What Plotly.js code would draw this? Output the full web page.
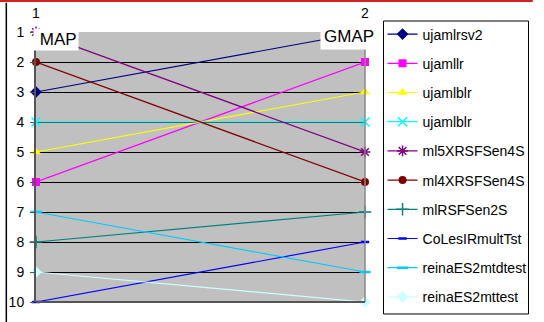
<!DOCTYPE html>
<html>
<head>
<meta charset="utf-8">
<script src="https://cdn.plot.ly/plotly-3.0.1.min.js"></script>
<style>
  html, body { margin: 0; padding: 0; background: #fff; }
  #chart { width: 544px; height: 322px; }
</style>
</head>
<body>
<div id="chart"></div>
<script>
// Rank of each run under the two measures (1 = best)
const positions = [1, 2];
const measureLabels = ['MAP', 'GMAP'];

const ujamlrsv2      = [3, 1];
const ujamllr        = [6, 2];
const ujamlblrA      = [5, 3];
const ujamlblrB      = [4, 4];
const ml5XRSFSen4S   = [1, 5];
const ml4XRSFSen4S   = [2, 6];
const mlRSFSen2S     = [8, 7];
const CoLesIRmultTst = [10, 8];
const reinaES2mtdtest = [7, 9];
const reinaES2mttest  = [9, 10];

const rankTicks = [1, 2, 3, 4, 5, 6, 7, 8, 9, 10];

const FONT = 'Liberation Sans, Arial, sans-serif';

function series(name, y, color, symbol, size, lineW) {
  return {
    type: 'scatter',
    mode: 'lines+markers',
    name: name,
    legendgroup: name + symbol,
    x: positions,
    y: y,
    cliponaxis: false,
    line: { color: color, width: 1.2 },
    marker: {
      color: color,
      symbol: symbol,
      size: size,
      line: { color: color, width: lineW }
    }
  };
}

const traces = [
  series('ujamlrsv2', ujamlrsv2, '#000080', 'diamond', 9, 0),
  series('ujamllr', ujamllr, '#FF00FF', 'square', 8, 0),
  series('ujamlblr', ujamlblrA, '#FFFF00', 'triangle-up', 9, 0),
  series('ujamlblr', ujamlblrB, '#00FFFF', 'x-thin-open', 9, 1.5),
  series('ml5XRSFSen4S', ml5XRSFSen4S, '#800080', 'asterisk-open', 9, 1.5),
  series('ml4XRSFSen4S', ml4XRSFSen4S, '#800000', 'circle', 8, 0),
  series('mlRSFSen2S', mlRSFSen2S, '#008080', 'cross-thin-open', 9, 1.5),
  series('CoLesIRmultTst', CoLesIRmultTst, '#0000FF', 'line-ew-open', 6, 2.5),
  series('reinaES2mtdtest', reinaES2mtdtest, '#00CCFF', 'line-ew-open', 8, 2.5),
  series('reinaES2mttest', reinaES2mttest, '#CCFFFF', 'diamond', 9, 0)
];

const layout = {
  width: 544,
  height: 322,
  autosize: false,
  margin: { l: 36, r: 170, t: 32, b: 20 },
  paper_bgcolor: '#FFFFFF',
  plot_bgcolor: '#C0C0C0',
  font: { family: FONT, size: 14, color: '#000' },
  showlegend: true,
  legend: {
    x: 1.0533, xanchor: 'left',
    y: 1.050, yanchor: 'top',
    bgcolor: 'rgba(0,0,0,0)',
    borderwidth: 0,
    tracegroupgap: 8,
    traceorder: 'grouped',
    maxheight: 400,
    font: { family: FONT, size: 14, color: '#000' }
  },
  xaxis: {
    side: 'top',
    range: [1, 2],
    tickvals: positions,
    ticktext: positions.map(String),
    showgrid: false,
    zeroline: false,
    showline: false,
    ticks: 'outside',
    ticklen: 7,
    tickcolor: 'rgba(0,0,0,0)',
    tickfont: { family: FONT, size: 14, color: '#000' },
    fixedrange: true
  },
  yaxis: {
    range: [10, 1],
    tickvals: rankTicks,
    showgrid: true,
    gridcolor: '#000000',
    gridwidth: 1,
    zeroline: false,
    showline: true,
    linecolor: '#555555',
    linewidth: 2,
    mirror: false,
    ticks: 'outside',
    ticklen: 4,
    tickcolor: '#555555',
    ticklabelstandoff: 3,
    tickfont: { family: FONT, size: 14, color: '#000' },
    fixedrange: true
  },
  shapes: [
    // right and bottom edges of the plot area
    { type: 'line', xref: 'paper', yref: 'paper', x0: 1, x1: 1, y0: 0, y1: 1,
      line: { color: '#888888', width: 1.5 } },
    { type: 'line', xref: 'paper', yref: 'paper', x0: 0, x1: 1, y0: 0, y1: 0,
      line: { color: '#555555', width: 2 } },
    // legend frame
    { type: 'rect', xref: 'paper', yref: 'paper',
      x0: 1.0562, x1: 1.497, y0: -0.0444, y1: 1.0407,
      line: { color: '#000000', width: 1 }, fillcolor: 'rgba(0,0,0,0)' },
    // outer frame strokes
    { type: 'line', xref: 'paper', yref: 'paper', x0: -0.11, x1: 1.51, y0: 1.1148, y1: 1.1148,
      line: { color: '#D22020', width: 2 } },
    { type: 'line', xref: 'paper', yref: 'paper', x0: -0.0902, x1: -0.0902, y0: -0.08, y1: 1.108,
      line: { color: '#000000', width: 1.5 } }
  ],
  annotations: [
    { x: positions[0], y: 1, xref: 'x', yref: 'y', xanchor: 'left', yanchor: 'top',
      text: '&nbsp;' + measureLabels[0], showarrow: false, bgcolor: '#FFFFFF', borderpad: 1,
      xshift: -3, yshift: 4, font: { family: FONT, size: 17, color: '#000' } },
    { x: positions[1], y: 1, xref: 'x', yref: 'y', xanchor: 'right', yanchor: 'top',
      text: measureLabels[1], showarrow: false, bgcolor: '#FFFFFF', borderpad: 3,
      xshift: 13, yshift: 9, font: { family: FONT, size: 17, color: '#000' } }
  ]
};

Plotly.newPlot('chart', traces, layout, { displayModeBar: false, staticPlot: true });
</script>
</body>
</html>
